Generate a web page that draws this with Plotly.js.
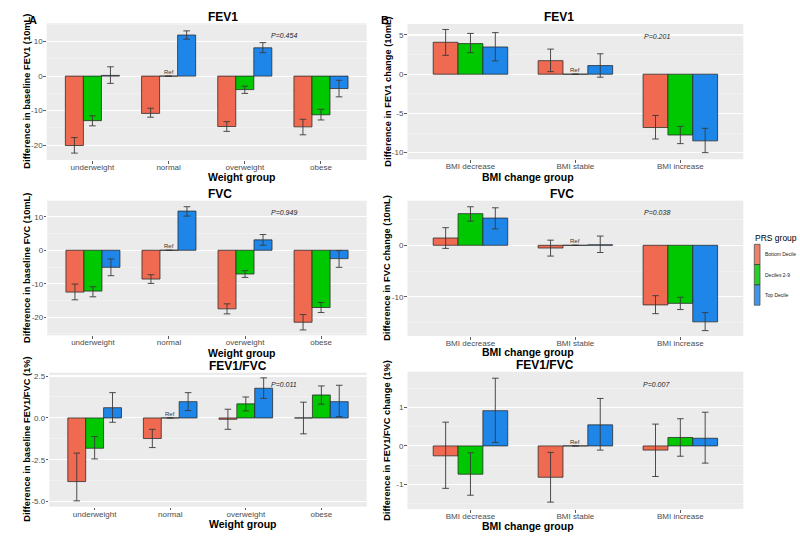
<!DOCTYPE html>
<html>
<head>
<meta charset="utf-8">
<script src="https://cdn.plot.ly/plotly-3.0.1.min.js"></script>
<style>
  html, body { margin: 0; padding: 0; background: #fff; }
  #chart { width: 800px; height: 541px; }
</style>
</head>
<body>
<div id="chart"></div>
<script>
// categories
const weightGroups = ['underweight', 'normal', 'overweight', 'obese'];
const bmiGroups = ['BMI decrease', 'BMI stable', 'BMI increase'];
const prsGroups = ['Bottom Decile', 'Deciles 2-9', 'Top Decile'];
const prsColors = ['#EF6A50', '#00C800', '#1E86E8'];

// estimates and CI per PRS group: [bottom, deciles 2-9, top]
// FEV1 by weight group
const fev1WeightEst = [[-20.1, -10.8, -14.6, -14.7], [-12.9, 0, -3.9, -11.2], [0.2, 11.9, 8.2, -3.6]];
const fev1WeightLo  = [[-22.3, -11.9, -16.0, -17.0], [-14.4, null, -5.0, -12.7], [-2.1, 10.7, 6.8, -6.0]];
const fev1WeightHi  = [[-17.8, -9.3, -13.2, -12.5], [-11.5, null, -2.9, -9.6], [2.7, 13.1, 9.7, -1.2]];
// FEV1 by BMI change
const fev1BmiEst = [[4.07, 1.73, -6.8], [3.9, 0, -7.75], [3.47, 1.1, -8.5]];
const fev1BmiLo  = [[2.4, 0.33, -8.26], [2.75, null, -8.85], [1.7, -0.38, -10.0]];
const fev1BmiHi  = [[5.7, 3.2, -5.26], [5.2, null, -6.65], [5.3, 2.6, -6.9]];
// FVC by weight group
const fvcWeightEst = [[-12.5, -8.6, -17.5, -21.5], [-12.2, 0, -7.1, -17.1], [-5.1, 11.7, 3.1, -2.5]];
const fvcWeightLo  = [[-14.8, -9.9, -19.0, -23.8], [-13.9, null, -8.1, -18.6], [-7.6, 10.2, 1.5, -5.1]];
const fvcWeightHi  = [[-10.1, -7.3, -16.0, -19.2], [-10.9, null, -6.1, -15.6], [-2.6, 13.0, 4.7, -0.1]];
// FVC by BMI change
const fvcBmiEst = [[1.42, -0.53, -11.6], [6.16, 0, -11.3], [5.3, 0.1, -14.9]];
const fvcBmiLo  = [[-0.6, -2.1, -13.3], [4.7, null, -12.5], [3.2, -1.4, -16.6]];
const fvcBmiHi  = [[3.43, 1.0, -9.8], [7.5, null, -10.1], [7.3, 1.8, -13.1]];
// FEV1/FVC by weight group
const ratioWeightEst = [[-3.8, -1.23, -0.08, 0.0], [-1.81, 0, 0.84, 1.37], [0.61, 0.97, 1.77, 0.97]];
const ratioWeightLo  = [[-4.95, -1.77, -0.68, -0.95], [-2.45, null, 0.42, 0.82], [-0.26, 0.44, 1.17, 0.08]];
const ratioWeightHi  = [[-2.1, -0.68, 0.52, 0.94], [-1.11, null, 1.25, 1.91], [1.51, 1.51, 2.39, 1.95]];
// FEV1/FVC by BMI change
const ratioBmiEst = [[-0.26, -0.82, -0.11], [-0.74, 0, 0.22], [0.92, 0.55, 0.2]];
const ratioBmiLo  = [[-1.11, -1.47, -0.8], [-1.29, null, -0.27], [0.09, -0.11, -0.45]];
const ratioBmiHi  = [[0.62, -0.17, 0.57], [-0.18, null, 0.71], [1.77, 1.24, 0.88]];

const pValues = ['P=0.454', 'P=0.201', 'P=0.949', 'P=0.038', 'P=0.011', 'P=0.007'];

// y tick values / labels per panel
const ticksA1 = [-20, -10, 0, 10];
const ticksB1 = [-10, -5, 0, 5];
const ticksA2 = [-20, -10, 0, 10];
const ticksB2 = [-10, 0];
const ticksA3 = [-5, -2.5, 0, 2.5];
const ticksA3Text = ['-5.0', '-2.5', '0.0', '2.5'];
const ticksB3 = [-1, 0, 1];

let W = 800, H = 541;
let font = 'Liberation Sans, Arial, sans-serif';

// panel boxes in px: [left, right, top, bottom]; xt / yt = where the axis titles sit
let panels = [
  {box: [46.7, 366.7, 23.3, 160], xt: 176.5, yt: 27, cats: weightGroups, est: fev1WeightEst, lo: fev1WeightLo, hi: fev1WeightHi,
   title: 'FEV1', ytitle: 'Difference in baseline FEV1 (10mL)', xtitle: 'Weight group', range: [-24.3, 15.3], ticks: ticksA1, minor: 5},
  {box: [407.5, 743.3, 24, 159.3], xt: 176.5, yt: 388, cats: bmiGroups, est: fev1BmiEst, lo: fev1BmiLo, hi: fev1BmiHi,
   title: 'FEV1', ytitle: 'Difference in FEV1 change (10mL)', xtitle: 'BMI change group', range: [-10.85, 6.4], ticks: ticksB1, minor: 2.5},
  {box: [47.3, 366.7, 200.7, 335.3], xt: 352.5, yt: 27, cats: weightGroups, est: fvcWeightEst, lo: fvcWeightLo, hi: fvcWeightHi,
   title: 'FVC', ytitle: 'Difference in baseline FVC (10mL)', xtitle: 'Weight group', range: [-25.4, 14.8], ticks: ticksA2, minor: 5},
  {box: [407.5, 743.3, 200.7, 336], xt: 351.5, yt: 387.5, cats: bmiGroups, est: fvcBmiEst, lo: fvcBmiLo, hi: fvcBmiHi,
   title: 'FVC', ytitle: 'Difference in FVC change (10mL)', xtitle: 'BMI change group', range: [-17.65, 8.68], ticks: ticksB2, minor: 5},
  {box: [49.3, 366.7, 372.7, 506.7], xt: 524, yt: 27, cats: weightGroups, est: ratioWeightEst, lo: ratioWeightLo, hi: ratioWeightHi,
   title: 'FEV1/FVC', ytitle: 'Difference in baseline FEV1/FVC (1%)', xtitle: 'Weight group', range: [-5.3, 2.7], ticks: ticksA3, tickText: ticksA3Text, minor: 1.25},
  {box: [407.5, 743.3, 371.7, 509], xt: 525.5, yt: 387.5, cats: bmiGroups, est: ratioBmiEst, lo: ratioBmiLo, hi: ratioBmiHi,
   title: 'FEV1/FVC', ytitle: 'Difference in FEV1/FVC change (1%)', xtitle: 'BMI change group', range: [-1.65, 1.94], ticks: ticksB3, minor: 0.5}
];

function px(x) { return x / W; }
function py(y) { return 1 - y / H; }

let data = [];
let layout = {
  width: W, height: H,
  margin: {l: 0, r: 0, t: 0, b: 0},
  paper_bgcolor: '#ffffff',
  plot_bgcolor: '#EBEBEB',
  barmode: 'group',
  bargap: 0.29,
  bargroupgap: 0,
  showlegend: false,
  font: {family: font, size: 8, color: '#4D4D4D'},
  annotations: [],
  shapes: []
};

panels.forEach(function(p, i) {
  let n = i == 0 ? '' : String(i + 1);
  let b = p.box;

  for (let s = 0; s < 3; s++) {
    let plus = p.est[s].map((v, k) => p.hi[s][k] == null ? null : p.hi[s][k] - v);
    let minus = p.est[s].map((v, k) => p.lo[s][k] == null ? null : v - p.lo[s][k]);
    data.push({
      type: 'bar',
      x: p.cats,
      y: p.est[s],
      name: prsGroups[s],
      xaxis: 'x' + n, yaxis: 'y' + n,
      marker: {color: prsColors[s], line: {color: 'rgba(40,40,40,0.85)', width: 0.9}},
      error_y: {type: 'data', symmetric: false, array: plus, arrayminus: minus,
                color: '#3a3a3a', thickness: 0.9, width: 3.3},
      hoverinfo: 'x+y+name'
    });
  }

  let minorVals = [];
  for (let v = Math.ceil(p.range[0] / p.minor) * p.minor; v <= p.range[1]; v += p.minor) {
    if (p.ticks.indexOf(v) < 0) minorVals.push(v);
  }

  layout['xaxis' + n] = {
    domain: [px(b[0]), px(b[1])],
    anchor: 'y' + n,
    type: 'category',
    range: [-0.6, p.cats.length - 0.4],
    showgrid: false, zeroline: false, showline: false,
    ticks: 'outside', ticklen: 2.5, tickwidth: 0.8, tickcolor: '#333',
    ticklabelstandoff: -3,
    tickfont: {family: font, size: 8, color: '#4D4D4D'},
    automargin: false
  };
  layout['yaxis' + n] = {
    domain: [py(b[3]), py(b[2])],
    anchor: 'x' + n,
    range: p.range,
    tickmode: 'array',
    tickvals: p.ticks,
    ticktext: p.tickText || p.ticks.map(String),
    showgrid: true, gridcolor: '#ffffff', gridwidth: 1.1,
    minor: {tickmode: 'array', tickvals: minorVals, showgrid: true, gridcolor: '#F7F7F7', gridwidth: 0.5, ticks: ''},
    zeroline: false, showline: false,
    ticks: 'outside', ticklen: 2.5, tickwidth: 0.8, tickcolor: '#333',
    ticklabelstandoff: -1,
    tickfont: {family: font, size: 8, color: '#4D4D4D'},
    automargin: false
  };

  // panel title
  layout.annotations.push({
    xref: 'paper', yref: 'paper', x: px((b[0] + b[1]) / 2), y: py(b[2] - 6.5),
    text: '<b>' + p.title + '</b>', showarrow: false, yanchor: 'middle', borderpad: 0,
    font: {family: font, size: 12, color: '#000'}
  });
  // axis titles
  layout.annotations.push({
    xref: 'paper', yref: 'paper', x: px((b[0] + b[1]) / 2), y: py(p.xt), yanchor: 'middle',
    text: '<b>' + p.xtitle + '</b>', showarrow: false, borderpad: 0,
    font: {family: font, size: 10.5, color: '#000'}
  });
  layout.annotations.push({
    xref: 'paper', yref: 'paper', x: px(p.yt), y: py((b[2] + b[3]) / 2), xanchor: 'center', yanchor: 'middle',
    text: '<b>' + p.ytitle + '</b>', showarrow: false, textangle: -90, borderpad: 0,
    font: {family: font, size: 9.3, color: '#000'}
  });
  // p value
  layout.annotations.push({
    xref: 'x' + n + ' domain', yref: 'y' + n + ' domain', x: 0.787, y: 0.95,
    text: '<i>' + pValues[i] + '</i>', showarrow: false,
    font: {family: font, size: 7, color: '#222'}
  });
  // reference category marker
  layout.annotations.push({
    xref: 'x' + n, yref: 'y' + n, x: p.cats[1], y: 0, yanchor: 'bottom',
    text: 'Ref', showarrow: false, yshift: -1,
    font: {family: font, size: 6, color: '#333'}
  });
});

// panel letters
layout.annotations.push({xref: 'paper', yref: 'paper', x: px(27), y: py(12), text: '<b>A</b>', showarrow: false,
  font: {family: font, size: 11, color: '#000'}});
layout.annotations.push({xref: 'paper', yref: 'paper', x: px(385), y: py(12), text: '<b>B</b>', showarrow: false,
  font: {family: font, size: 11, color: '#000'}});

// legend, drawn by hand to get the tall ggplot keys
layout.annotations.push({xref: 'paper', yref: 'paper', x: px(753), y: py(238), xanchor: 'left',
  text: 'PRS group', showarrow: false, font: {family: font, size: 8.5, color: '#000'}});
let keyTop = 244.3, keyH = 20.3;
prsGroups.forEach(function(g, s) {
  let y0 = keyTop + s * keyH;
  layout.shapes.push({type: 'rect', xref: 'paper', yref: 'paper',
    x0: px(754.3), x1: px(760), y0: py(y0), y1: py(y0 + keyH),
    fillcolor: prsColors[s], opacity: 0.85, line: {color: '#333', width: 0.8}});
  layout.annotations.push({xref: 'paper', yref: 'paper', x: px(763), y: py(y0 + keyH / 2), xanchor: 'left',
    text: g, showarrow: false, font: {family: font, size: 5, color: '#222'}});
});

Plotly.newPlot('chart', data, layout, {staticPlot: true});
</script>
</body>
</html>
